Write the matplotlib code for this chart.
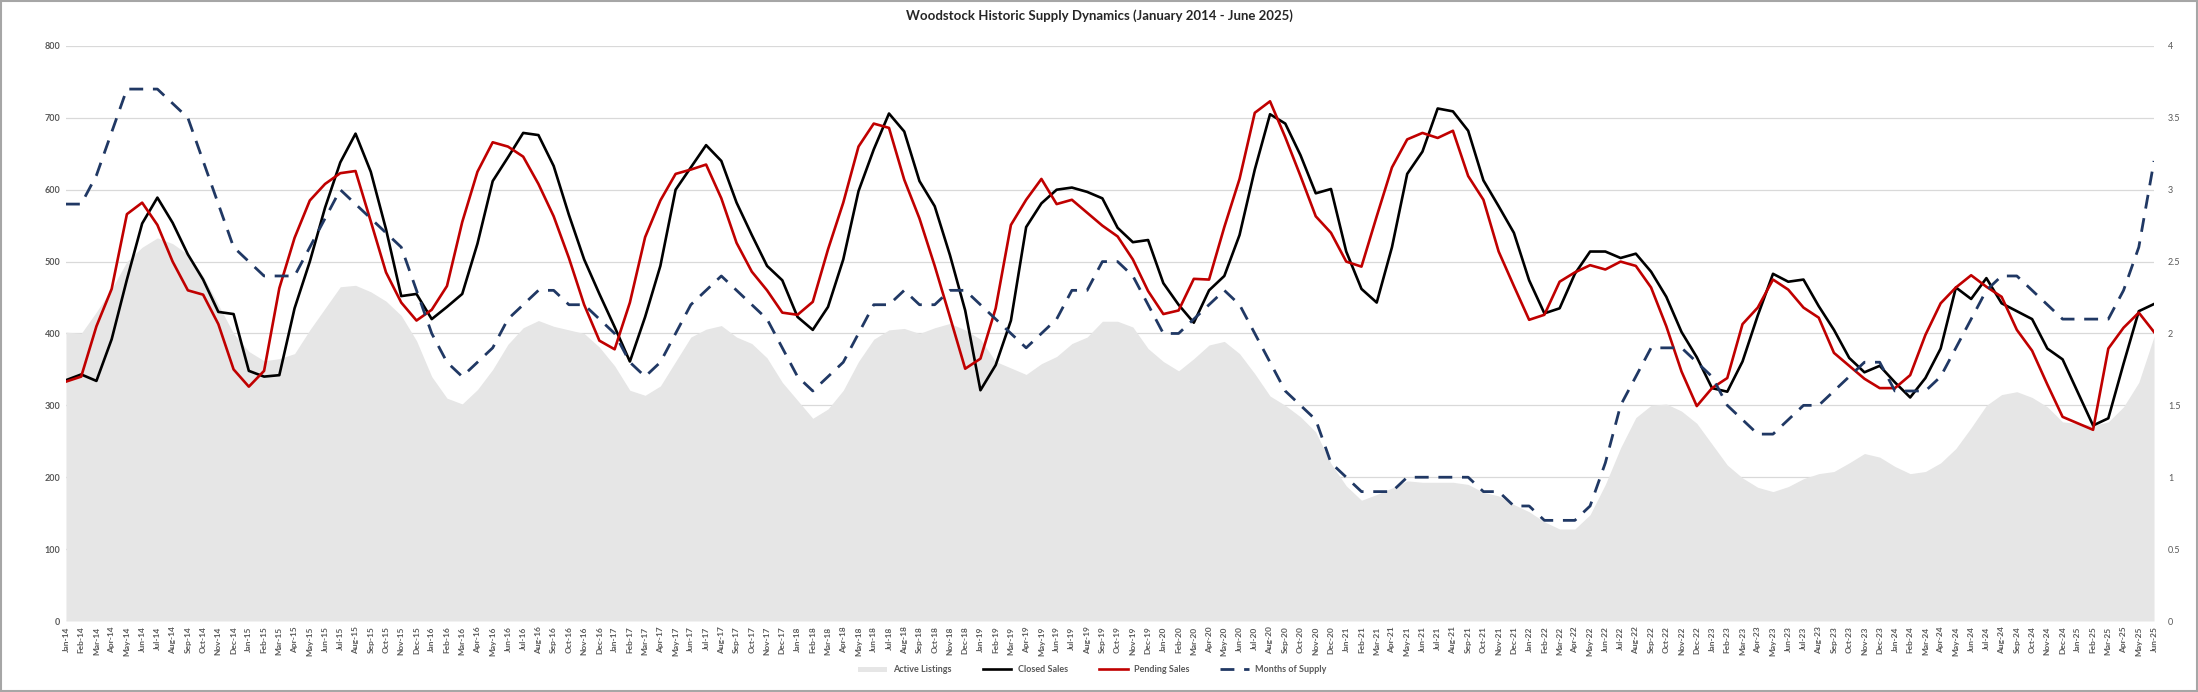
import numpy as np
import pandas as pd
import matplotlib
matplotlib.use('Agg')
import matplotlib.pyplot as plt
from matplotlib.lines import Line2D
from matplotlib.patches import Patch, Rectangle

plt.rcParams['font.family'] = ['Lato', 'DejaVu Sans']

# Monthly data, Jan 2014 - Jun 2025
months = pd.date_range('2014-01-01', '2025-06-01', freq='MS').strftime('%b-%y').tolist()

active_listings = [
    402, 400, 430, 462, 500, 520, 533, 525, 510, 480, 440, 400,
    375, 362, 365, 372, 405, 435, 465, 467, 458, 445, 425, 390,
    340, 310, 302, 322, 350, 385, 408, 418, 410, 405, 400, 381,
    355, 321, 314, 327, 361, 395, 406, 411, 395, 386, 366, 332,
    307, 282, 295, 321, 361, 392, 405, 407, 400, 408, 414, 405,
    392, 361, 352, 343, 358, 368, 386, 395, 417, 417, 409, 379,
    361, 348, 365, 384, 389, 372, 344, 313, 300, 284, 263, 219,
    188, 168, 176, 185, 195, 193, 193, 193, 190, 179, 174, 162,
    152, 138, 128, 128, 148, 190, 241, 283, 300, 302, 292, 275,
    246, 217, 199, 186, 180, 187, 198, 205, 208, 220, 233, 228,
    215, 205, 208, 220, 240, 269, 300, 315, 319, 311, 298, 277,
    275, 272, 277, 298, 332, 396,
]

closed_sales = [
    335, 343, 334, 392, 475, 553, 589, 554, 510, 475, 430, 427,
    348, 340, 342, 435, 500, 575, 638, 678, 625, 545, 452, 455,
    420, 437, 455, 525, 612, 645, 679, 676, 633, 565, 503, 455,
    409, 361, 423, 494, 600, 631, 662, 640, 582, 537, 494, 474,
    423, 405, 437, 503, 598, 656, 706, 681, 612, 577, 509, 432,
    321, 356, 418, 548, 581, 600, 603, 597, 588, 547, 527, 530,
    470, 440, 415, 460, 480, 537, 628, 705, 692, 648, 595, 601,
    514, 462, 443, 520, 622, 653, 713, 709, 682, 613, 577, 540,
    474, 428, 435, 483, 514, 514, 505, 511, 486, 451, 402, 367,
    324, 319, 361, 425, 483, 472, 475, 438, 405, 366, 346, 355,
    332, 311, 338, 379, 464, 448, 477, 442, 431, 420, 379, 364,
    318, 272, 282, 358, 431, 441,
]

pending_sales = [
    333, 340, 410, 462, 566, 582, 551, 500, 460, 454, 413, 350,
    326, 348, 463, 533, 585, 608, 623, 626, 556, 485, 443, 418,
    433, 466, 555, 625, 666, 660, 646, 608, 563, 505, 440, 390,
    378, 443, 534, 585, 622, 628, 635, 588, 526, 486, 460, 429,
    426, 444, 517, 582, 660, 692, 686, 614, 560, 494, 423, 351,
    365, 435, 551, 586, 615, 580, 586, 568, 550, 535, 503, 459,
    427, 432, 476, 475, 548, 615, 707, 723, 673, 619, 563, 540,
    500, 493, 563, 631, 670, 679, 672, 682, 619, 586, 514, 466,
    419, 426, 472, 485, 495, 489, 500, 494, 464, 410, 347, 299,
    324, 338, 413, 436, 475, 461, 436, 422, 373, 355, 337, 324,
    324, 342, 398, 442, 464, 481, 465, 451, 405, 376, 329, 284,
    275, 266, 379, 408, 429, 402,
]

months_of_supply = [
    2.9, 2.9, 3.1, 3.4, 3.7, 3.7, 3.7, 3.6, 3.5, 3.2, 2.9, 2.6,
    2.5, 2.4, 2.4, 2.4, 2.6, 2.8, 3.0, 2.9, 2.8, 2.7, 2.6, 2.3,
    2.0, 1.8, 1.7, 1.8, 1.9, 2.1, 2.2, 2.3, 2.3, 2.2, 2.2, 2.1,
    2.0, 1.8, 1.7, 1.8, 2.0, 2.2, 2.3, 2.4, 2.3, 2.2, 2.1, 1.9,
    1.7, 1.6, 1.7, 1.8, 2.0, 2.2, 2.2, 2.3, 2.2, 2.2, 2.3, 2.3,
    2.2, 2.1, 2.0, 1.9, 2.0, 2.1, 2.3, 2.3, 2.5, 2.5, 2.4, 2.2,
    2.0, 2.0, 2.1, 2.2, 2.3, 2.2, 2.0, 1.8, 1.6, 1.5, 1.4, 1.1,
    1.0, 0.9, 0.9, 0.9, 1.0, 1.0, 1.0, 1.0, 1.0, 0.9, 0.9, 0.8,
    0.8, 0.7, 0.7, 0.7, 0.8, 1.1, 1.5, 1.7, 1.9, 1.9, 1.9, 1.8,
    1.7, 1.5, 1.4, 1.3, 1.3, 1.4, 1.5, 1.5, 1.6, 1.7, 1.8, 1.8,
    1.6, 1.6, 1.6, 1.7, 1.9, 2.1, 2.3, 2.4, 2.4, 2.3, 2.2, 2.1,
    2.1, 2.1, 2.1, 2.3, 2.6, 3.2,
]

x = np.arange(len(months))
area_color = '#e6e6e6'
red = '#c00000'
navy = '#203864'
tick_color = '#595959'

fig = plt.figure(figsize=(21.98, 6.92), dpi=100)
ax = fig.add_axes([0.030, 0.1026, 0.950, 0.831])

ax.fill_between(x, active_listings, color=area_color, lw=0, zorder=2)
ax.plot(x, closed_sales, color='black', lw=1.9, zorder=3)
ax.plot(x, pending_sales, color=red, lw=1.9, zorder=3)

ax.set_xlim(0, len(months) - 1)
ax.set_ylim(0, 800)
ax.set_yticks(np.arange(0, 801, 100))
ax.grid(axis='y', color='#d9d9d9', lw=0.9, zorder=0)
ax.set_axisbelow(True)
ax.set_xticks(x)
ax.set_xticklabels(months, rotation=90, fontsize=6, color=tick_color, fontweight='bold')
ax.tick_params(axis='both', length=0, pad=4)
ax.tick_params(axis='y', labelsize=6.5, labelcolor=tick_color)
for lbl in ax.get_yticklabels():
    lbl.set_fontweight('bold')
for s in ax.spines.values():
    s.set_visible(False)

ax2 = ax.twinx()
ax2.plot(x, months_of_supply, color=navy, lw=2.0, dashes=(5, 3.5), zorder=4)
ax2.set_ylim(0, 4)
ax2.set_yticks(np.arange(0, 4.01, 0.5))
ax2.set_yticklabels(['0', '0.5', '1', '1.5', '2', '2.5', '3', '3.5', '4'])
ax2.tick_params(axis='y', length=0, pad=10, labelsize=6.5, labelcolor=tick_color)
for s in ax2.spines.values():
    s.set_visible(False)

fig.text(0.5, 0.978, 'Woodstock Historic Supply Dynamics (January 2014 - June 2025)',
         ha='center', va='center', fontsize=9.5, fontweight='bold', color='#262626')

handles = [
    Patch(facecolor=area_color, edgecolor='none'),
    Line2D([], [], color='black', lw=1.9),
    Line2D([], [], color=red, lw=1.9),
    Line2D([], [], color=navy, lw=2.0, dashes=(5, 3.5)),
]
labels = ['Active Listings', 'Closed Sales', 'Pending Sales', 'Months of Supply']
leg = fig.legend(handles, labels, loc='center', bbox_to_anchor=(0.497, 0.032), ncol=4,
                 frameon=False, fontsize=6.5, handlelength=3.2, handleheight=0.5,
                 handletextpad=0.7, columnspacing=3.4, labelcolor=tick_color)
for t in leg.get_texts():
    t.set_fontweight('bold')

fig.patches.append(Rectangle((0.0005, 0.001), 0.999, 0.998, transform=fig.transFigure,
                             fill=False, edgecolor='#a6a6a6', lw=1.5))

fig.savefig('out.png', dpi=100)
